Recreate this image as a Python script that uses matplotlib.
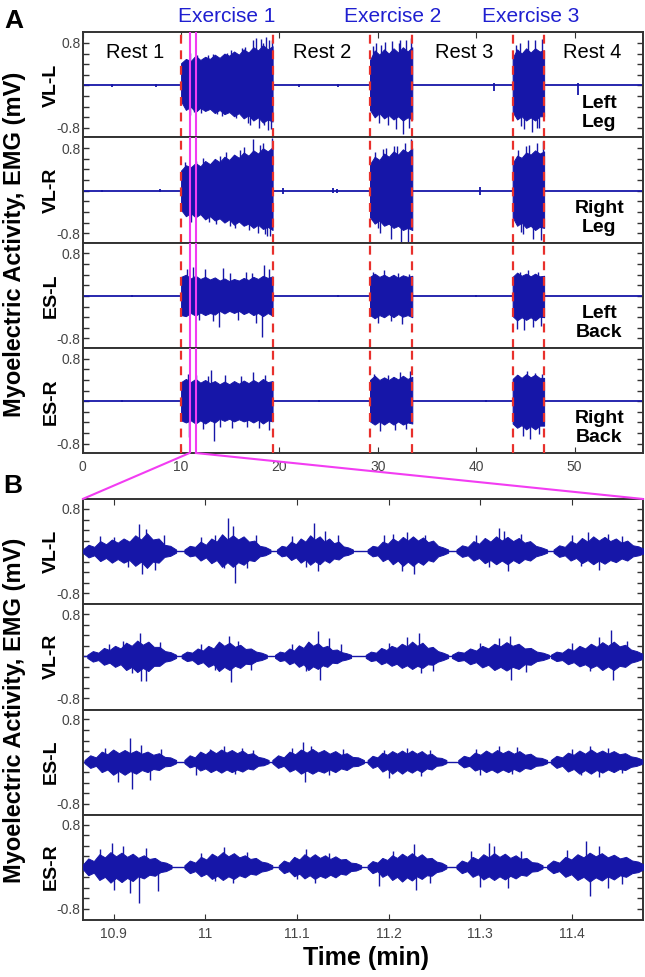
import numpy as np
import matplotlib
matplotlib.use("Agg")
import matplotlib.pyplot as plt
from matplotlib.patches import ConnectionPatch

plt.rcParams['font.family'] = ['Liberation Sans', 'DejaVu Sans']

# ---------------- data ----------------
channels = ["VL-L", "VL-R", "ES-L", "ES-R"]
region_labels = ["Left\nLeg", "Right\nLeg", "Left\nBack", "Right\nBack"]
rest_labels = ["Rest 1", "Rest 2", "Rest 3", "Rest 4"]
rest_label_t = [5.3, 24.3, 38.8, 51.8]
exercise_labels = ["Exercise 1", "Exercise 2", "Exercise 3"]
exercise_label_t = [14.6, 31.5, 45.5]
ex_start = [10.0, 29.2, 43.7]
ex_end = [19.3, 33.5, 46.9]
zoom_window = [10.866, 11.478]
xticks_a = [0, 10, 20, 30, 40, 50]
xticks_b = [10.9, 11.0, 11.1, 11.2, 11.3, 11.4]
xticklabels_b = ["10.9", "11", "11.1", "11.2", "11.3", "11.4"]
yticks = [-0.8, -0.6, -0.4, -0.2, 0.0, 0.2, 0.4, 0.6, 0.8]
yticklabels = ["-0.8", "", "", "", "", "", "", "", "0.8"]

# ---- Panel A: envelope of each exercise block (mV), one list per block ----
vll_a_upper = [[0.42, 0.50, 0.46, 0.56, 0.48, 0.54, 0.50, 0.58, 0.52, 0.60, 0.56, 0.64, 0.58, 0.68, 0.62, 0.72, 0.66, 0.76, 0.68, 0.74],
               [0.48, 0.66, 0.58, 0.68, 0.60, 0.70, 0.62, 0.72, 0.64, 0.72],
               [0.52, 0.68, 0.60, 0.70, 0.62, 0.70, 0.64, 0.66]]
vll_a_lower = [[-0.30, -0.46, -0.40, -0.50, -0.42, -0.48, -0.44, -0.52, -0.46, -0.54, -0.50, -0.58, -0.52, -0.62, -0.56, -0.66, -0.60, -0.70, -0.64, -0.68],
               [-0.46, -0.60, -0.52, -0.62, -0.56, -0.64, -0.58, -0.66, -0.60, -0.64],
               [-0.50, -0.64, -0.58, -0.66, -0.60, -0.66, -0.58, -0.58]]
vll_a_spk_t = [10.9, 10.95, 11.3, 11.6, 12.0, 12.7, 13.2, 13.7, 14.2, 14.7, 15.1, 15.6, 16.2, 16.5, 16.8, 17.0, 17.3, 17.6, 17.9,
               18.1, 18.3, 18.4, 18.6, 18.8, 18.9, 19.1, 19.2,
               29.5, 29.8, 30.1, 30.3, 30.7, 31.0, 31.4, 31.8, 32.1, 32.3, 32.6, 32.9, 33.2, 33.35,
               44.0, 44.4, 44.6, 44.9, 45.3, 45.7, 46.0, 46.2, 46.4, 46.7]
vll_a_spk_v = [0.62, -0.55, -0.50, 0.58, -0.52, 0.58, 0.60, -0.54, -0.58, 0.62, 0.66, -0.62, 0.70, 0.72, -0.70, -0.74, 0.85, 0.90, -0.80,
               0.88, 0.80, -0.75, 0.92, -0.84, 0.85, -0.82, 0.86,
               0.74, 0.80, -0.70, 0.76, 0.82, -0.75, 0.84, -0.82, 0.80, 0.86, -0.92, 0.85, -0.80, 0.90,
               0.76, 0.80, -0.76, -0.82, 0.86, -0.88, 0.85, -0.80, -0.80, 0.88]
vll_a_rest_t = [3.0, 7.5, 22.0, 26.0, 41.8, 50.3]
vll_a_rest_lo = [-0.02, -0.02, -0.02, -0.02, -0.11, -0.18]
vll_a_rest_hi = [0.03, 0.02, 0.03, 0.02, 0.04, 0.04]

vlr_a_upper = [[0.38, 0.48, 0.44, 0.52, 0.46, 0.56, 0.50, 0.60, 0.54, 0.64, 0.58, 0.68, 0.62, 0.72, 0.66, 0.76, 0.70, 0.80, 0.74, 0.82],
               [0.50, 0.64, 0.58, 0.70, 0.64, 0.74, 0.68, 0.78, 0.72, 0.80],
               [0.52, 0.66, 0.62, 0.72, 0.68, 0.76, 0.70, 0.74]]
vlr_a_lower = [[-0.36, -0.48, -0.42, -0.50, -0.44, -0.54, -0.48, -0.56, -0.52, -0.60, -0.54, -0.64, -0.58, -0.66, -0.62, -0.70, -0.64, -0.72, -0.68, -0.74],
               [-0.50, -0.62, -0.56, -0.66, -0.62, -0.70, -0.66, -0.74, -0.70, -0.74],
               [-0.50, -0.66, -0.60, -0.70, -0.66, -0.74, -0.68, -0.70]]
vlr_a_spk_t = [10.4, 11.0, 11.5, 12.2, 12.8, 13.5, 14.0, 14.6, 15.0, 15.5, 16.0, 16.4, 16.9, 17.3, 17.8, 18.0, 18.3, 18.5, 18.7,
               19.0, 19.2,
               29.7, 30.0, 30.2, 30.5, 30.8, 31.3, 31.6, 31.9, 32.4, 32.8, 33.1, 33.4,
               44.2, 44.5, 44.8, 45.1, 45.4, 45.8, 46.2, 46.6, 46.8]
vlr_a_spk_v = [0.55, -0.58, 0.56, 0.62, -0.58, -0.62, 0.66, 0.72, -0.66, -0.70, 0.76, 0.82, -0.74, 0.98, -0.80, 0.86, 0.90, -0.82, -0.85,
               -0.86, 1.00,
               0.72, -0.70, -0.80, 0.78, 0.80, -0.90, 0.84, 0.85, -1.00, 0.90, -1.05, 0.98,
               0.76, -0.78, -0.82, 0.84, 0.86, -0.90, 0.90, -0.92, 0.94]
vlr_a_rest_t = [2.0, 7.9, 20.4, 25.4, 25.8, 40.4]
vlr_a_rest_lo = [-0.02, -0.03, -0.06, -0.04, -0.05, -0.08]
vlr_a_rest_hi = [0.02, 0.04, 0.06, 0.05, 0.04, 0.07]

esl_a_upper = [[0.36, 0.40, 0.33, 0.38, 0.32, 0.36, 0.31, 0.35, 0.29, 0.33, 0.28, 0.32, 0.29, 0.34, 0.30, 0.36, 0.32, 0.38, 0.34, 0.37],
               [0.36, 0.42, 0.36, 0.40, 0.35, 0.40, 0.34, 0.39, 0.36, 0.38],
               [0.36, 0.44, 0.38, 0.42, 0.37, 0.42, 0.37, 0.38]]
esl_a_lower = [[-0.36, -0.38, -0.32, -0.37, -0.31, -0.36, -0.32, -0.35, -0.28, -0.33, -0.28, -0.32, -0.28, -0.34, -0.30, -0.36, -0.32, -0.38, -0.32, -0.37],
               [-0.36, -0.42, -0.36, -0.40, -0.34, -0.40, -0.34, -0.39, -0.36, -0.40],
               [-0.38, -0.46, -0.40, -0.45, -0.40, -0.46, -0.39, -0.40]]
esl_a_spk_t = [10.6, 11.2, 11.8, 12.4, 13.2, 13.9, 14.3, 15.0, 15.8, 16.6, 17.2, 17.6, 18.2, 18.4, 18.9,
               29.5, 30.0, 30.6, 31.3, 32.0, 32.5, 33.2,
               44.1, 44.4, 44.9, 45.3, 45.8, 46.3, 46.6]
esl_a_spk_v = [0.50, 0.55, -0.46, 0.50, -0.48, -0.58, 0.52, 0.44, -0.45, 0.46, 0.44, -0.50, -0.78, 0.58, 0.50,
               0.46, -0.50, 0.48, -0.48, 0.44, -0.52, 0.42,
               -0.62, 0.46, -0.65, 0.48, -0.58, 0.46, -0.56]
esl_a_rest_t = [5.0, 26.0, 40.0]
esl_a_rest_lo = [-0.02, -0.02, -0.02]
esl_a_rest_hi = [0.02, 0.02, 0.02]

esr_a_upper = [[0.36, 0.42, 0.36, 0.42, 0.35, 0.40, 0.34, 0.38, 0.32, 0.37, 0.32, 0.38, 0.33, 0.39, 0.34, 0.40, 0.35, 0.42, 0.36, 0.38],
               [0.40, 0.48, 0.40, 0.45, 0.40, 0.46, 0.41, 0.48, 0.42, 0.46],
               [0.42, 0.50, 0.44, 0.51, 0.45, 0.50, 0.44, 0.44]]
esr_a_lower = [[-0.36, -0.40, -0.36, -0.42, -0.36, -0.42, -0.36, -0.40, -0.33, -0.37, -0.33, -0.38, -0.34, -0.38, -0.35, -0.40, -0.35, -0.42, -0.36, -0.38],
               [-0.38, -0.44, -0.38, -0.44, -0.38, -0.44, -0.38, -0.44, -0.40, -0.42],
               [-0.42, -0.50, -0.45, -0.53, -0.47, -0.53, -0.46, -0.46]]
esr_a_spk_t = [10.7, 10.83, 11.5, 12.2, 12.7, 13.0, 13.3, 14.0, 14.5, 15.2, 16.1, 16.7, 17.3, 17.9, 18.5, 18.9,
               29.6, 30.2, 31.0, 31.7, 32.3, 32.9, 33.3,
               44.2, 44.8, 45.2, 45.5, 46.0, 46.4, 46.7]
esr_a_spk_v = [0.52, -0.68, 0.50, -0.52, 0.48, 0.58, -0.75, -0.48, 0.50, -0.50, 0.48, -0.48, 0.55, -0.50, 0.50, -0.55,
               0.52, -0.56, 0.50, -0.54, 0.55, -0.52, 0.56,
               0.50, -0.66, 0.56, -0.72, 0.54, -0.62, 0.52]
esr_a_rest_t = [4.0, 24.0, 41.0]
esr_a_rest_lo = [-0.02, -0.02, -0.02]
esr_a_rest_hi = [0.02, 0.02, 0.02]

# ---- Panel B: six contraction bursts per channel (min) and envelopes (mV) ----
vll_b_start = [10.866, 10.977, 11.078, 11.177, 11.274, 11.380]
vll_b_end = [10.968, 11.071, 11.161, 11.265, 11.373, 11.479]
vll_b_upper = [[0.03, 0.12, 0.08, 0.19, 0.13, 0.22, 0.16, 0.24, 0.18, 0.30, 0.22, 0.34, 0.22, 0.24, 0.12, 0.10, 0.03],
               [0.03, 0.10, 0.08, 0.18, 0.12, 0.24, 0.18, 0.32, 0.22, 0.30, 0.22, 0.28, 0.18, 0.20, 0.10, 0.08, 0.03],
               [0.03, 0.10, 0.08, 0.18, 0.13, 0.24, 0.18, 0.30, 0.22, 0.28, 0.18, 0.24, 0.15, 0.18, 0.09, 0.07, 0.03],
               [0.03, 0.10, 0.08, 0.18, 0.14, 0.24, 0.18, 0.27, 0.20, 0.28, 0.20, 0.26, 0.17, 0.20, 0.10, 0.07, 0.03],
               [0.03, 0.11, 0.08, 0.19, 0.14, 0.25, 0.18, 0.28, 0.20, 0.27, 0.19, 0.25, 0.16, 0.19, 0.10, 0.07, 0.03],
               [0.03, 0.11, 0.08, 0.19, 0.14, 0.25, 0.18, 0.28, 0.20, 0.27, 0.19, 0.24, 0.16, 0.20, 0.11, 0.09, 0.04]]
vll_b_lower = [[-0.03, -0.12, -0.08, -0.19, -0.13, -0.22, -0.15, -0.22, -0.17, -0.28, -0.20, -0.32, -0.20, -0.22, -0.11, -0.09, -0.03],
               [-0.03, -0.10, -0.08, -0.18, -0.12, -0.23, -0.17, -0.30, -0.21, -0.30, -0.21, -0.26, -0.17, -0.19, -0.10, -0.08, -0.03],
               [-0.03, -0.10, -0.08, -0.17, -0.12, -0.22, -0.16, -0.26, -0.19, -0.25, -0.17, -0.22, -0.14, -0.16, -0.09, -0.07, -0.03],
               [-0.03, -0.10, -0.08, -0.19, -0.14, -0.25, -0.18, -0.28, -0.20, -0.28, -0.20, -0.26, -0.17, -0.20, -0.10, -0.07, -0.03],
               [-0.03, -0.11, -0.08, -0.18, -0.13, -0.23, -0.17, -0.25, -0.18, -0.25, -0.17, -0.23, -0.15, -0.18, -0.10, -0.07, -0.03],
               [-0.03, -0.11, -0.08, -0.18, -0.13, -0.23, -0.17, -0.25, -0.18, -0.24, -0.17, -0.21, -0.14, -0.18, -0.10, -0.08, -0.04]]
vll_b_spk_t = [10.885, 10.900, 10.915, 10.927, 10.931, 10.935, 10.945, 10.955,
               10.995, 11.010, 11.020, 11.025, 11.030, 11.032, 11.045, 11.055,
               11.095, 11.110, 11.118, 11.123, 11.130, 11.145,
               11.195, 11.205, 11.215, 11.220, 11.228, 11.240,
               11.295, 11.310, 11.320, 11.326, 11.330, 11.345,
               11.400, 11.410, 11.418, 11.430, 11.440, 11.455]
vll_b_spk_v = [0.28, 0.26, -0.30, 0.51, -0.43, 0.42, -0.36, 0.30,
               0.26, 0.30, -0.32, 0.62, 0.48, -0.61, -0.33, 0.30,
               0.28, -0.30, 0.54, -0.37, 0.38, 0.30,
               0.30, 0.32, -0.38, 0.37, -0.43, 0.30,
               0.30, -0.30, 0.44, 0.38, -0.37, 0.32,
               0.30, -0.28, 0.37, -0.35, 0.33, 0.28]

vlr_b_start = [10.871, 10.974, 11.076, 11.175, 11.269, 11.377]
vlr_b_end = [10.968, 11.067, 11.159, 11.265, 11.375, 11.477]
vlr_b_upper = [[0.03, 0.10, 0.07, 0.16, 0.12, 0.20, 0.15, 0.26, 0.20, 0.30, 0.22, 0.28, 0.18, 0.18, 0.10, 0.08, 0.03],
               [0.03, 0.09, 0.07, 0.15, 0.11, 0.20, 0.15, 0.28, 0.20, 0.26, 0.18, 0.22, 0.14, 0.15, 0.09, 0.07, 0.03],
               [0.03, 0.09, 0.07, 0.15, 0.11, 0.21, 0.16, 0.28, 0.20, 0.25, 0.17, 0.20, 0.12, 0.13, 0.08, 0.06, 0.03],
               [0.03, 0.09, 0.07, 0.16, 0.12, 0.20, 0.16, 0.24, 0.19, 0.28, 0.20, 0.26, 0.16, 0.18, 0.10, 0.07, 0.03],
               [0.03, 0.09, 0.07, 0.15, 0.11, 0.20, 0.15, 0.24, 0.19, 0.27, 0.20, 0.24, 0.15, 0.16, 0.09, 0.07, 0.03],
               [0.03, 0.09, 0.07, 0.15, 0.11, 0.20, 0.15, 0.24, 0.18, 0.27, 0.20, 0.28, 0.19, 0.22, 0.13, 0.10, 0.05]]
vlr_b_lower = [[-0.03, -0.10, -0.07, -0.16, -0.12, -0.20, -0.15, -0.26, -0.20, -0.30, -0.22, -0.28, -0.18, -0.18, -0.10, -0.08, -0.03],
               [-0.03, -0.09, -0.07, -0.15, -0.11, -0.20, -0.15, -0.28, -0.20, -0.26, -0.18, -0.22, -0.14, -0.15, -0.09, -0.07, -0.03],
               [-0.03, -0.09, -0.07, -0.15, -0.11, -0.20, -0.15, -0.26, -0.19, -0.24, -0.17, -0.20, -0.12, -0.13, -0.08, -0.06, -0.03],
               [-0.03, -0.09, -0.07, -0.15, -0.11, -0.18, -0.14, -0.22, -0.17, -0.24, -0.18, -0.22, -0.15, -0.16, -0.10, -0.07, -0.03],
               [-0.03, -0.09, -0.07, -0.15, -0.11, -0.21, -0.16, -0.26, -0.20, -0.27, -0.20, -0.24, -0.15, -0.16, -0.09, -0.07, -0.03],
               [-0.03, -0.09, -0.07, -0.15, -0.11, -0.19, -0.15, -0.22, -0.17, -0.26, -0.19, -0.26, -0.18, -0.20, -0.12, -0.09, -0.05]]
vlr_b_spk_t = [10.895, 10.910, 10.920, 10.929, 10.930, 10.935, 10.950,
               10.995, 11.010, 11.026, 11.028, 11.035, 11.050,
               11.095, 11.110, 11.123, 11.125, 11.135, 11.148,
               11.200, 11.220, 11.233, 11.235, 11.248,
               11.300, 11.320, 11.332, 11.334, 11.350,
               11.400, 11.420, 11.430, 11.443, 11.445, 11.460]
vlr_b_spk_v = [0.24, 0.30, -0.32, 0.45, -0.47, -0.46, 0.28,
               0.24, -0.26, 0.38, -0.49, 0.30, -0.26,
               0.24, -0.28, 0.48, -0.44, 0.34, 0.24,
               0.26, 0.36, 0.44, -0.31, -0.28,
               0.26, 0.34, 0.39, -0.44, -0.30,
               0.26, -0.28, 0.36, 0.50, -0.44, 0.30]

esl_b_start = [10.868, 10.977, 11.073, 11.177, 11.276, 11.377]
esl_b_end = [10.968, 11.069, 11.173, 11.263, 11.373, 11.477]
esl_b_upper = [[0.03, 0.12, 0.08, 0.19, 0.14, 0.23, 0.16, 0.22, 0.16, 0.21, 0.15, 0.19, 0.13, 0.16, 0.09, 0.08, 0.03],
               [0.03, 0.12, 0.08, 0.19, 0.14, 0.22, 0.16, 0.23, 0.17, 0.22, 0.16, 0.21, 0.14, 0.16, 0.09, 0.07, 0.03],
               [0.03, 0.12, 0.08, 0.19, 0.14, 0.23, 0.17, 0.24, 0.17, 0.22, 0.15, 0.20, 0.13, 0.16, 0.09, 0.08, 0.03],
               [0.03, 0.11, 0.08, 0.17, 0.13, 0.20, 0.15, 0.21, 0.15, 0.21, 0.15, 0.20, 0.13, 0.15, 0.08, 0.07, 0.03],
               [0.03, 0.11, 0.08, 0.17, 0.13, 0.21, 0.15, 0.22, 0.16, 0.21, 0.15, 0.20, 0.13, 0.15, 0.08, 0.07, 0.03],
               [0.03, 0.11, 0.08, 0.17, 0.13, 0.21, 0.15, 0.23, 0.16, 0.21, 0.15, 0.20, 0.14, 0.16, 0.10, 0.08, 0.04]]
esl_b_lower = [[-0.03, -0.12, -0.08, -0.20, -0.15, -0.25, -0.18, -0.25, -0.18, -0.23, -0.16, -0.20, -0.14, -0.16, -0.09, -0.08, -0.03],
               [-0.03, -0.11, -0.08, -0.17, -0.13, -0.20, -0.15, -0.21, -0.15, -0.20, -0.15, -0.19, -0.13, -0.15, -0.08, -0.07, -0.03],
               [-0.03, -0.12, -0.08, -0.19, -0.14, -0.23, -0.17, -0.23, -0.17, -0.21, -0.15, -0.20, -0.13, -0.16, -0.09, -0.08, -0.03],
               [-0.03, -0.12, -0.08, -0.19, -0.14, -0.23, -0.16, -0.23, -0.16, -0.21, -0.15, -0.20, -0.13, -0.15, -0.08, -0.07, -0.03],
               [-0.03, -0.11, -0.08, -0.17, -0.13, -0.20, -0.15, -0.21, -0.15, -0.20, -0.14, -0.19, -0.12, -0.14, -0.08, -0.07, -0.03],
               [-0.03, -0.12, -0.08, -0.19, -0.14, -0.23, -0.16, -0.23, -0.16, -0.21, -0.15, -0.20, -0.14, -0.16, -0.10, -0.08, -0.04]]
esl_b_spk_t = [10.890, 10.905, 10.918, 10.920, 10.930, 10.940, 10.952,
               10.990, 11.005, 11.020, 11.032, 11.040, 11.052,
               11.095, 11.107, 11.109, 11.115, 11.135, 11.150,
               11.195, 11.200, 11.220, 11.235, 11.245,
               11.295, 11.300, 11.320, 11.335, 11.340,
               11.400, 11.410, 11.420, 11.430, 11.440, 11.455]
esl_b_spk_v = [0.26, -0.38, 0.45, -0.53, 0.32, -0.35, 0.24,
               -0.26, 0.24, 0.29, -0.24, 0.26, 0.22,
               0.26, 0.38, -0.38, 0.30, -0.26, 0.24,
               0.22, -0.32, 0.26, -0.28, 0.22,
               0.24, -0.26, 0.29, -0.24, 0.27,
               0.24, -0.26, 0.29, -0.29, 0.26, -0.22]

esr_b_start = [10.866, 10.977, 11.080, 11.177, 11.274, 11.373]
esr_b_end = [10.963, 11.073, 11.170, 11.263, 11.368, 11.479]
esr_b_upper = [[0.04, 0.16, 0.11, 0.24, 0.18, 0.28, 0.20, 0.27, 0.19, 0.25, 0.17, 0.22, 0.15, 0.17, 0.10, 0.08, 0.03],
               [0.03, 0.12, 0.08, 0.19, 0.14, 0.25, 0.19, 0.28, 0.20, 0.26, 0.18, 0.22, 0.15, 0.17, 0.10, 0.08, 0.03],
               [0.03, 0.12, 0.08, 0.19, 0.14, 0.24, 0.17, 0.24, 0.17, 0.22, 0.15, 0.20, 0.14, 0.15, 0.08, 0.07, 0.03],
               [0.03, 0.11, 0.08, 0.17, 0.13, 0.22, 0.17, 0.25, 0.19, 0.26, 0.18, 0.24, 0.16, 0.17, 0.10, 0.08, 0.03],
               [0.03, 0.12, 0.08, 0.19, 0.14, 0.24, 0.18, 0.26, 0.19, 0.25, 0.17, 0.22, 0.15, 0.17, 0.09, 0.08, 0.03],
               [0.03, 0.12, 0.08, 0.19, 0.14, 0.24, 0.18, 0.27, 0.20, 0.26, 0.18, 0.23, 0.16, 0.19, 0.12, 0.10, 0.04]]
esr_b_lower = [[-0.04, -0.16, -0.11, -0.25, -0.19, -0.30, -0.21, -0.29, -0.21, -0.27, -0.18, -0.22, -0.15, -0.17, -0.10, -0.08, -0.03],
               [-0.03, -0.12, -0.08, -0.18, -0.13, -0.23, -0.17, -0.25, -0.18, -0.23, -0.16, -0.20, -0.13, -0.15, -0.09, -0.07, -0.03],
               [-0.03, -0.12, -0.08, -0.18, -0.13, -0.22, -0.16, -0.23, -0.17, -0.21, -0.15, -0.20, -0.13, -0.15, -0.08, -0.07, -0.03],
               [-0.03, -0.12, -0.08, -0.19, -0.14, -0.25, -0.19, -0.28, -0.20, -0.26, -0.18, -0.23, -0.16, -0.17, -0.10, -0.08, -0.03],
               [-0.03, -0.12, -0.08, -0.19, -0.14, -0.24, -0.18, -0.25, -0.18, -0.24, -0.17, -0.22, -0.15, -0.17, -0.09, -0.08, -0.03],
               [-0.03, -0.12, -0.08, -0.19, -0.14, -0.25, -0.19, -0.28, -0.20, -0.26, -0.18, -0.24, -0.16, -0.19, -0.12, -0.10, -0.04]]
esr_b_spk_t = [10.885, 10.898, 10.900, 10.910, 10.918, 10.927, 10.935, 10.948,
               10.995, 11.010, 11.020, 11.030, 11.045,
               11.100, 11.110, 11.120, 11.135,
               11.190, 11.205, 11.228, 11.230, 11.245,
               11.290, 11.300, 11.310, 11.315, 11.330, 11.345,
               11.395, 11.415, 11.420, 11.430, 11.440, 11.455]
esr_b_spk_v = [0.34, 0.46, -0.44, 0.40, -0.50, -0.68, 0.36, -0.46,
               0.26, -0.26, 0.38, -0.31, 0.28,
               -0.24, 0.33, -0.31, 0.26,
               -0.36, 0.30, 0.43, -0.44, -0.30,
               0.30, -0.38, 0.46, 0.40, -0.40, 0.30,
               0.32, 0.49, -0.55, 0.40, -0.40, -0.32]

panel_a_data = [
    (vll_a_upper, vll_a_lower, vll_a_spk_t, vll_a_spk_v, vll_a_rest_t, vll_a_rest_lo, vll_a_rest_hi),
    (vlr_a_upper, vlr_a_lower, vlr_a_spk_t, vlr_a_spk_v, vlr_a_rest_t, vlr_a_rest_lo, vlr_a_rest_hi),
    (esl_a_upper, esl_a_lower, esl_a_spk_t, esl_a_spk_v, esl_a_rest_t, esl_a_rest_lo, esl_a_rest_hi),
    (esr_a_upper, esr_a_lower, esr_a_spk_t, esr_a_spk_v, esr_a_rest_t, esr_a_rest_lo, esr_a_rest_hi),
]
panel_b_data = [
    (vll_b_start, vll_b_end, vll_b_upper, vll_b_lower, vll_b_spk_t, vll_b_spk_v),
    (vlr_b_start, vlr_b_end, vlr_b_upper, vlr_b_lower, vlr_b_spk_t, vlr_b_spk_v),
    (esl_b_start, esl_b_end, esl_b_upper, esl_b_lower, esl_b_spk_t, esl_b_spk_v),
    (esr_b_start, esr_b_end, esr_b_upper, esr_b_lower, esr_b_spk_t, esr_b_spk_v),
]

# ---------------- style ----------------
BLUE = '#1616a8'
RED = '#e8302c'
MAGENTA = '#f23cf2'
TEXTBLUE = '#1f1fd0'
SPINE = '#333333'
TICKTXT = '#454545'

W, H = 645, 977
fig = plt.figure(figsize=(W / 100, H / 100), dpi=100)


def rect(left, top, right, bottom):
    return [left / W, 1 - bottom / H, (right - left) / W, (bottom - top) / H]


def style_axes(ax, ylim):
    ax.set_ylim(*ylim)
    ax.set_yticks(yticks)
    ax.set_yticklabels(yticklabels)
    ax.tick_params(axis='y', direction='in', left=True, right=True, length=4,
                   width=1.0, pad=1.5, labelsize=10, labelcolor=TICKTXT, color=SPINE)
    for s in ax.spines.values():
        s.set_color(SPINE)
        s.set_linewidth(1.4)


A_left, A_right, A_top, A_bot = 82.7, 643.0, 32.0, 453.0
B_left, B_right, B_top, B_bot = 82.7, 643.3, 499.0, 920.0
rowA = (A_bot - A_top) / 4
rowB = (B_bot - B_top) / 4

# ---------------- Panel A ----------------
axes_a = []
for i, (name, region, data) in enumerate(zip(channels, region_labels, panel_a_data)):
    up, lo, st, sv, rt, rlo, rhi = data
    ax = fig.add_axes(rect(A_left, A_top + i * rowA, A_right, A_top + (i + 1) * rowA))
    axes_a.append(ax)
    ax.set_xlim(0, 56.95)
    style_axes(ax, (-0.975, 1.007))
    ax.axhline(0, color=BLUE, lw=1.3, zorder=2)
    for s, e, u, l in zip(ex_start, ex_end, up, lo):
        t = np.linspace(s, e, len(u))
        ax.fill_between(t, l, u, color=BLUE, lw=0.7, zorder=3)
    ax.vlines(st, 0, sv, color=BLUE, lw=1.0, zorder=3)
    ax.vlines(rt, rlo, rhi, color=BLUE, lw=1.3, zorder=3)
    for x in ex_start + ex_end:
        ax.axvline(x, color=RED, lw=1.6, dashes=(4, 3), zorder=5)
    for x in zoom_window:
        ax.axvline(x, color=MAGENTA, lw=1.5, zorder=6)
    ax.text(-0.0566, 0, name, transform=ax.get_yaxis_transform(), rotation=90,
            ha='center', va='center', fontsize=14, fontweight='bold')
    ax.text(52.5, -0.51, region, ha='center', va='center', fontsize=14,
            fontweight='bold', linespacing=1.15, zorder=7)
    if i == 0:
        ax.set_xticks(xticks_a)
        ax.tick_params(axis='x', direction='in', top=True, bottom=False,
                       labeltop=False, labelbottom=False, length=4, color=SPINE)
        for lbl, t in zip(rest_labels, rest_label_t):
            ax.text(t, 0.63, lbl, ha='center', va='center', fontsize=14.5, zorder=7)
        for lbl, t in zip(exercise_labels, exercise_label_t):
            ax.text(t, 1.152, lbl, transform=ax.get_xaxis_transform(), ha='center',
                    va='center', fontsize=15, color=TEXTBLUE)
    elif i == 3:
        ax.set_xticks(xticks_a)
        ax.set_xticklabels([str(v) for v in xticks_a])
        ax.tick_params(axis='x', direction='in', top=False, bottom=True, length=4,
                       pad=5, labelsize=10, labelcolor=TICKTXT, color=SPINE)
    else:
        ax.set_xticks([])

# ---------------- Panel B ----------------
axes_b = []
for i, (name, data) in enumerate(zip(channels, panel_b_data)):
    bs, be, up, lo, st, sv = data
    ax = fig.add_axes(rect(B_left, B_top + i * rowB, B_right, B_top + (i + 1) * rowB))
    axes_b.append(ax)
    ax.set_xlim(*zoom_window)
    style_axes(ax, (-1.01, 0.99))
    ax.axhline(0, color=BLUE, lw=1.0, zorder=2)
    for s, e, u, l in zip(bs, be, up, lo):
        t = np.linspace(s, e, len(u))
        ax.fill_between(t, l, u, color=BLUE, lw=0.7, zorder=3)
    ax.vlines(st, 0, sv, color=BLUE, lw=1.0, zorder=3)
    ax.text(-0.0566, 0, name, transform=ax.get_yaxis_transform(), rotation=90,
            ha='center', va='center', fontsize=14, fontweight='bold')
    if i == 0:
        ax.set_xticks(xticks_b)
        ax.tick_params(axis='x', direction='in', top=True, bottom=False,
                       labeltop=False, labelbottom=False, length=4, color=SPINE)
    elif i == 3:
        ax.set_xticks(xticks_b)
        ax.set_xticklabels(xticklabels_b)
        ax.tick_params(axis='x', direction='in', top=False, bottom=True, length=4,
                       pad=5, labelsize=10, labelcolor=TICKTXT, color=SPINE)
    else:
        ax.set_xticks([])

# zoom connectors
for x, bx in zip(zoom_window, [0, 1]):
    con = ConnectionPatch(xyA=(x, -0.975), coordsA=axes_a[3].transData,
                          xyB=(bx, 1.0), coordsB=axes_b[0].transAxes,
                          color=MAGENTA, lw=1.5)
    fig.add_artist(con)

# labels
fig.text(15 / W, 1 - 244 / H, 'Myoelectric Activity, EMG (mV)', rotation=90,
         ha='center', va='center', fontsize=17, fontweight='bold')
fig.text(15 / W, 1 - 710 / H, 'Myoelectric Activity, EMG (mV)', rotation=90,
         ha='center', va='center', fontsize=17, fontweight='bold')
fig.text(14 / W, 1 - 21 / H, 'A', ha='center', va='center', fontsize=19, fontweight='bold')
fig.text(13 / W, 1 - 486 / H, 'B', ha='center', va='center', fontsize=19, fontweight='bold')
fig.text(366 / W, 1 - 958 / H, 'Time (min)', ha='center', va='center', fontsize=18,
         fontweight='bold')

fig.savefig('out.png', dpi=100)
